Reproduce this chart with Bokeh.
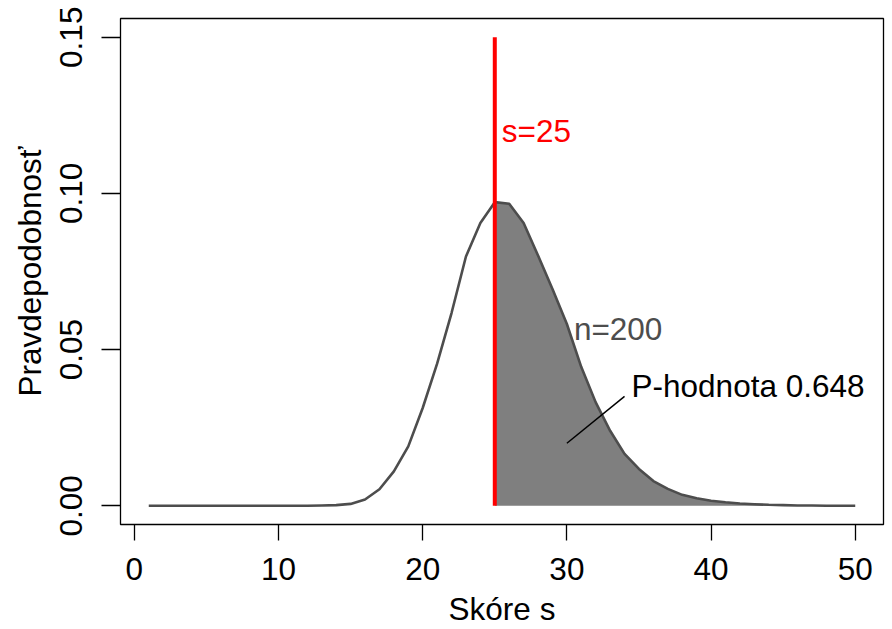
from bokeh.plotting import figure
from bokeh.embed import file_html
from bokeh.resources import INLINE
from bokeh.models import Range1d, FixedTicker, NumeralTickFormatter
from bokeh.core.properties import value

# ---- data ----
scores = list(range(1, 51))
probs = [0.0, 0.0, 0.0, 0.0, 0.0, 0.0, 0.0, 0.0, 0.0, 0.0,
         0.0, 0.0, 0.0001, 0.0002, 0.0006, 0.0020, 0.0053, 0.0110, 0.0190, 0.0313,
         0.0455, 0.0617, 0.0798, 0.0905, 0.0972, 0.0967, 0.0905, 0.0801, 0.0694, 0.0582,
         0.0444, 0.0331, 0.0240, 0.0166, 0.0118, 0.0079, 0.0054, 0.0035, 0.0024, 0.0016,
         0.0011, 0.0007, 0.0005, 0.0003, 0.0002, 0.0001, 0.0001, 0.0, 0.0, 0.0]
s_obs = 25
line_top = 0.15
n_sims = 200
p_value = 0.648
x_ticks = [0, 10, 20, 30, 40, 50]
y_ticks = [0.0, 0.05, 0.10, 0.15]

FONT = "Liberation Sans"
FS = "31.5px"

p = figure(width=892, height=629, output_backend="svg", toolbar_location=None,
           x_range=Range1d(-0.96, 51.96), y_range=Range1d(-0.006, 0.156),
           min_border_left=120, min_border_right=9, min_border_top=18, min_border_bottom=105)
p.xgrid.visible = False
p.ygrid.visible = False
p.outline_line_color = "black"
p.outline_line_width = 1.3
p.background_fill_color = "white"
p.border_fill_color = "white"

# shaded tail (s >= observed)
i0 = scores.index(s_obs)
p.varea(x=scores[i0:], y1=[0] * len(scores[i0:]), y2=probs[i0:], fill_color="#7F7F7F")
# distribution curve
p.line(scores, probs, line_color="#4D4D4D", line_width=2.6)
# observed score line
p.segment(x0=[s_obs], y0=[0], x1=[s_obs], y1=[line_top], line_color="red", line_width=4)

# annotations
p.text(x=[s_obs], y=[0.12], text=[f"s={s_obs}"], text_color="red", text_font=value(FONT),
       text_font_size=FS, text_align="left", text_baseline="middle", x_offset=7)
p.text(x=[30], y=[0.0566], text=[f"n={n_sims}"], text_color="#4D4D4D", text_font=value(FONT),
       text_font_size=FS, text_align="left", text_baseline="middle", x_offset=7)
p.text(x=[34], y=[0.0384], text=[f"P-hodnota {p_value}"], text_color="black", text_font=value(FONT),
       text_font_size=FS, text_align="left", text_baseline="middle", x_offset=7)
p.segment(x0=[30], y0=[0.020], x1=[34], y1=[0.035], line_color="black", line_width=1.5)

# axes
for ax in (p.xaxis[0], p.yaxis[0]):
    ax.axis_line_color = None
    ax.major_tick_line_color = "black"
    ax.major_tick_line_width = 1.3
    ax.minor_tick_line_color = None
    ax.major_tick_in = 0
    ax.major_label_text_font = FONT
    ax.major_label_text_font_size = FS
    ax.major_label_text_color = "black"
    ax.major_label_text_line_height = 1.0
    ax.axis_label_text_font = FONT
    ax.axis_label_text_font_size = FS
    ax.axis_label_text_font_style = "normal"
    ax.axis_label_text_color = "black"
    ax.axis_label_text_line_height = 1.0

p.xaxis.ticker = FixedTicker(ticks=x_ticks)
p.xaxis.major_tick_out = 16
p.xaxis.major_label_standoff = 17
p.xaxis.axis_label = "Skóre s"
p.xaxis.axis_label_standoff = 8

p.yaxis.ticker = FixedTicker(ticks=y_ticks)
p.yaxis.formatter = NumeralTickFormatter(format="0.00")
p.yaxis.major_tick_out = 19
p.yaxis.major_label_orientation = "vertical"
p.yaxis.major_label_standoff = 19
p.yaxis.axis_label = "Pravdepodobnosť"
p.yaxis.axis_label_standoff = 10

open("out.html", "w").write(file_html(p, INLINE))
